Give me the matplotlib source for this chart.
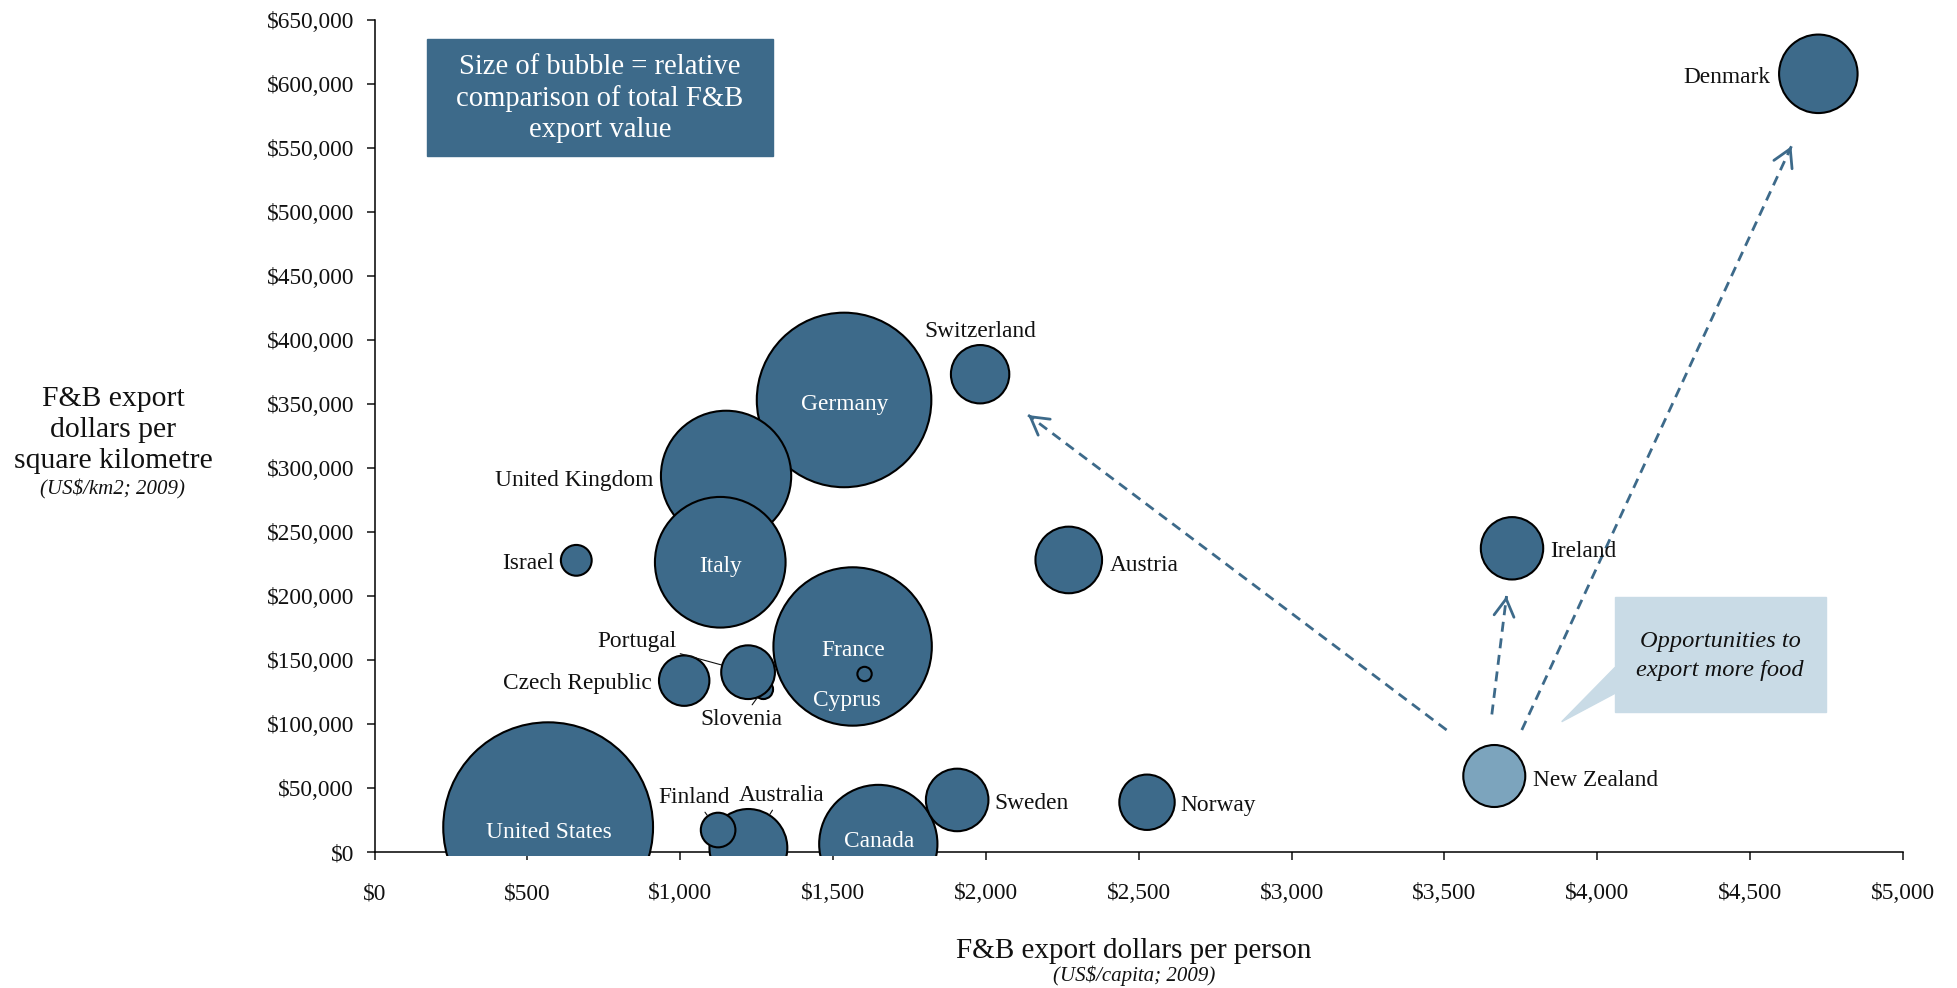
import numpy as np
import matplotlib
matplotlib.use('Agg')
import matplotlib.pyplot as plt
from matplotlib.patches import Rectangle, Polygon
from matplotlib.ticker import FuncFormatter

plt.rcParams['font.family'] = ['Liberation Serif', 'DejaVu Serif']

# %%
# countries, in drawing order (later ones sit on top)
countries = ['Germany', 'United Kingdom', 'Italy', 'France', 'Cyprus',
             'United States', 'Canada', 'Sweden', 'Australia', 'Finland',
             'Slovenia', 'Portugal', 'Czech Republic', 'Israel', 'Switzerland',
             'Austria', 'Norway', 'Ireland', 'New Zealand', 'Denmark']
# F&B export dollars per person (US$/capita; 2009)
per_capita = [1536, 1150, 1131, 1564, 1603,
              568, 1648, 1906, 1223, 1124,
              1272, 1222, 1013, 660, 1981,
              2271, 2527, 3721, 3663, 4723]
# F&B export dollars per square kilometre (US$/km2; 2009)
per_km2 = [353400, 294100, 226600, 160800, 139300,
           19600, 6500, 40900, 3400, 17400,
           127300, 140700, 134100, 228100, 373500,
           228400, 39100, 237500, 59600, 608200]
# total F&B export value (US$ bn, relative) -> bubble area
export_value = [62.3, 34.7, 34.9, 51.3, 0.42,
                90.0, 28.6, 8.0, 12.4, 2.45,
                0.77, 5.9, 5.2, 1.94, 6.97,
                9.07, 6.27, 7.96, 7.86, 12.6]

x_ticks = list(range(0, 5001, 500))
y_ticks = list(range(0, 650001, 50000))

# dashed "opportunity" arrows out of New Zealand
arrow_tails = [(3507, 95550), (3655, 107700), (3753, 95550)]
arrow_tips = [(2138, 341600), (3703, 200200), (4635, 551600)]

BLUE = '#3d6a8a'
LIGHT_BLUE = '#7ca4bd'
PALE = '#c9dbe6'
INK = '#111111'

# label placement: offset (points), alignment, colour, leader line
labels = {
    'United States': (0.7, -2.5, 'center', 'white', False),
    'Germany': (0.5, -1.7, 'center', 'white', False),
    'Italy': (0.4, -1.9, 'center', 'white', False),
    'France': (0.6, -1.8, 'center', 'white', False),
    'Canada': (0.9, 2.9, 'center', 'white', False),
    'Cyprus': (-12.8, -17.5, 'center', 'white', False),
    'United Kingdom': (-52.3, -1.8, 'right', INK, False),
    'Israel': (-16.1, -1.0, 'right', INK, False),
    'Czech Republic': (-23.2, -0.7, 'right', INK, False),
    'Portugal': (-80.3, 23.2, 'center', INK, True),
    'Slovenia': (-15.6, -20.2, 'center', INK, True),
    'Finland': (-17.1, 24.5, 'center', INK, True),
    'Australia': (24.0, 38.9, 'center', INK, True),
    'Switzerland': (0.3, 32.3, 'center', INK, False),
    'Austria': (29.5, -2.4, 'left', INK, False),
    'Sweden': (27.1, -1.4, 'left', INK, False),
    'Norway': (24.0, -1.2, 'left', INK, False),
    'Ireland': (27.3, -1.2, 'left', INK, False),
    'New Zealand': (27.6, -1.7, 'left', INK, False),
    'Denmark': (-34.2, -1.6, 'right', INK, False),
}
LABEL_DROP = 1.3  # nudge all bubble labels down a touch (points)

# %%
fig = plt.figure(figsize=(19.57, 9.88), dpi=100)
ax = fig.add_axes([0.19137, 0.13735, 0.78104, 0.8421])

ax.set_xlim(0, 5000)
ax.set_ylim(0, 650000)

sizes = np.array(export_value) * 253.5
colors = [LIGHT_BLUE if c == 'New Zealand' else BLUE for c in countries]
bubbles = ax.scatter(per_capita, per_km2, s=sizes, c=colors,
                     edgecolors='black', linewidths=1.5, zorder=3)
bubbles.set_clip_path(Rectangle((0, -0.005), 1, 1.01, transform=ax.transAxes))

for name, x, y, s in zip(countries, per_capita, per_km2, sizes):
    dx, dy, ha, col, leader = labels[name]
    props = None
    if leader:
        props = dict(arrowstyle='-', color=INK, lw=0.8,
                     shrinkA=1, shrinkB=np.sqrt(s) / 2 + 0.5)
    ax.annotate(name, xy=(x, y), xytext=(dx, dy - LABEL_DROP),
                textcoords='offset points', ha=ha, va='center',
                fontsize=16.8, color=col, arrowprops=props, zorder=4)

# dashed shafts with solid open heads
for (x0, y0), (x1, y1) in zip(arrow_tails, arrow_tips):
    ax.plot([x0, x1], [y0, y1], color=BLUE, lw=2.0, dashes=(3.6, 2.4),
            zorder=2)
    xs = x1 - 0.01 * (x1 - x0)
    ys = y1 - 0.01 * (y1 - y0)
    ax.annotate('', xy=(x1, y1), xytext=(xs, ys),
                arrowprops=dict(arrowstyle='->,head_length=1.25,head_width=0.72',
                                color=BLUE, lw=2.0, shrinkA=0, shrinkB=0,
                                mutation_scale=10), zorder=2)

# axes styling
for side in ['top', 'right']:
    ax.spines[side].set_visible(False)
for side in ['left', 'bottom']:
    ax.spines[side].set_linewidth(1.1)
    ax.spines[side].set_color('black')
ax.set_xticks(x_ticks)
ax.set_yticks(y_ticks)
ax.xaxis.set_major_formatter(FuncFormatter(lambda v, p: f'${v:,.0f}'))
ax.yaxis.set_major_formatter(FuncFormatter(lambda v, p: f'${v:,.0f}'))
ax.tick_params(direction='out', length=5.8, width=1.1, labelsize=16.8,
               colors=INK)
ax.tick_params(axis='x', pad=16.5)
ax.tick_params(axis='y', pad=9)

# axis titles
fig.text(0.0577, 0.5648, 'F&B export\ndollars per\nsquare kilometre',
         ha='center', va='center', fontsize=21.3, color=INK, linespacing=1.25)
fig.text(0.0577, 0.505, '(US$/km2; 2009)', ha='center', va='center',
         fontsize=15, style='italic', color=INK)
fig.text(0.5795, 0.0378, 'F&B export dollars per person', ha='center',
         va='center', fontsize=21, color=INK)
fig.text(0.5797, 0.0121, '(US$/capita; 2009)', ha='center', va='center',
         fontsize=15, style='italic', color=INK)

# bubble-size note
fig.patches.append(Rectangle((0.2182, 0.8421), 0.1768, 0.1184,
                             transform=fig.transFigure, color=BLUE, zorder=1))
fig.text(0.3066, 0.9005, 'Size of bubble = relative\ncomparison of total F&B\nexport value',
         ha='center', va='center', fontsize=20.6, color='white',
         linespacing=1.24, zorder=2)

# callout
fig.patches.append(Rectangle((0.8252, 0.2794), 0.1078, 0.1164,
                             transform=fig.transFigure, color=PALE, zorder=1))
fig.patches.append(Polygon([(0.8253, 0.3246), (0.7980, 0.2695), (0.8253, 0.2983)],
                           closed=True, transform=fig.transFigure,
                           color=PALE, zorder=1))
fig.text(0.8789, 0.3360, 'Opportunities to\nexport more food', ha='center',
         va='center', fontsize=17.6, style='italic', color=INK,
         linespacing=1.45, zorder=2)

fig.savefig('out.png', dpi=100)
